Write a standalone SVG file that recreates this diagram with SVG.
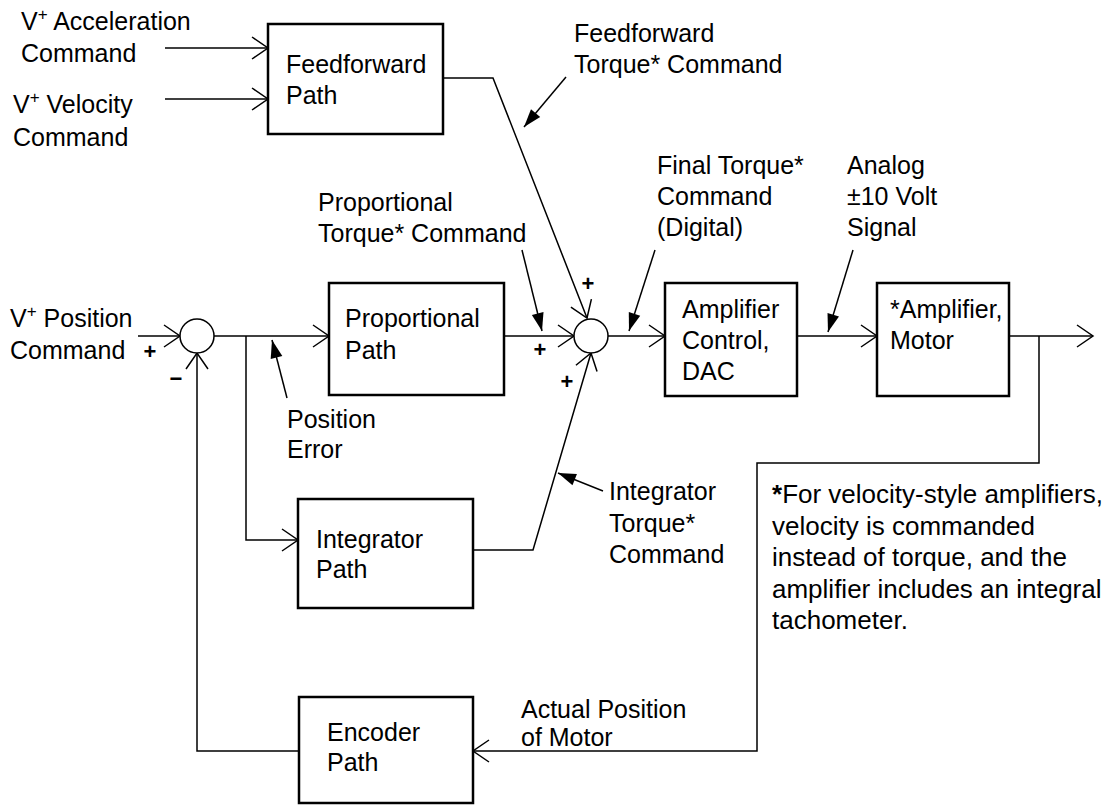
<svg xmlns="http://www.w3.org/2000/svg" width="1110" height="805" viewBox="0 0 1110 805">
  <style>
    text { font-family: "Liberation Sans", Arial, Helvetica, sans-serif; font-size: 25px; fill: #000; }
    .sign { font-size: 22px; font-weight: bold; text-anchor: middle; }
    .note { font-size: 26px; }
    .box { fill: #fff; stroke: #000; stroke-width: 2.5; }
    .sum { fill: #fff; stroke: #000; stroke-width: 1.5; }
    .wire { fill: none; stroke: #000; stroke-width: 1.5; }
    .sup { font-size: 17px; }
  </style>
  <defs>
    <!-- open chevron head for signal lines -->
    <marker id="open" markerUnits="userSpaceOnUse" viewBox="-18 -13 20 26" markerWidth="20" markerHeight="26" refX="0" refY="0" orient="auto">
      <path d="M-16,-11 L0,0 L-16,11" fill="none" stroke="#000" stroke-width="1.5"/>
    </marker>
    <!-- solid head for label pointers -->
    <marker id="solid" markerUnits="userSpaceOnUse" viewBox="-20 -8 21 16" markerWidth="21" markerHeight="16" refX="0" refY="0" orient="auto">
      <path d="M-18,-6 L0,0 L-18,6 Z" fill="#000"/>
    </marker>
  </defs>

  <rect width="1110" height="805" fill="#fff"/>

  <!-- signal connectors -->
  <g id="connectors" class="wire">
    <path d="M165,48 H268" marker-end="url(#open)"/>
    <path d="M165,99 H268" marker-end="url(#open)"/>
    <path d="M443,78 H493 L587,318" marker-end="url(#open)"/>
    <path d="M138,336 H180" marker-end="url(#open)"/>
    <path d="M214,336 H329" marker-end="url(#open)"/>
    <path d="M246,336 V540 H298" marker-end="url(#open)"/>
    <path d="M504,336 H574" marker-end="url(#open)"/>
    <path d="M608,336 H665" marker-end="url(#open)"/>
    <path d="M797,336 H877" marker-end="url(#open)"/>
    <path d="M1009,336 H1093" marker-end="url(#open)"/>
    <path d="M1039,336 V463 H757 V751 H473" marker-end="url(#open)"/>
    <path d="M299,751 H197 V353" marker-end="url(#open)"/>
    <path d="M473,550 H533 L591,353" marker-end="url(#open)"/>

    <!-- label pointers -->
    <path d="M566,77 L524,127" marker-end="url(#solid)"/>
    <path d="M522,250 L542,331" marker-end="url(#solid)"/>
    <path d="M655,250 L629,331" marker-end="url(#solid)"/>
    <path d="M853,250 L828,332" marker-end="url(#solid)"/>
    <path d="M287,398 L272,340" marker-end="url(#solid)"/>
    <path d="M603,491 L558,473" marker-end="url(#solid)"/>
  </g>

  <!-- input commands -->
  <g id="accel-cmd">
    <text x="21" y="30">V<tspan class="sup" dy="-10">+</tspan><tspan dy="10"> Acceleration</tspan></text>
    <text x="21" y="62">Command</text>
  </g>
  <g id="velocity-cmd">
    <text x="13" y="113">V<tspan class="sup" dy="-10">+</tspan><tspan dy="10"> Velocity</tspan></text>
    <text x="13" y="146">Command</text>
  </g>
  <g id="position-cmd">
    <text x="10" y="327">V<tspan class="sup" dy="-10">+</tspan><tspan dy="10"> Position</tspan></text>
    <text x="10" y="359">Command</text>
  </g>

  <!-- blocks -->
  <g id="feedforward">
    <rect class="box" x="268" y="24" width="175" height="110"/>
    <text x="286" y="73">Feedforward</text>
    <text x="286" y="104">Path</text>
  </g>
  <g id="sum1">
    <circle class="sum" cx="197" cy="336" r="17"/>
    <text class="sign" x="150" y="359">+</text>
    <text class="sign" x="176" y="386">−</text>
  </g>
  <g id="proportional">
    <rect class="box" x="329" y="283" width="175" height="112"/>
    <text x="345" y="327">Proportional</text>
    <text x="345" y="359">Path</text>
  </g>
  <g id="integrator">
    <rect class="box" x="298" y="499" width="175" height="109"/>
    <text x="316" y="548">Integrator</text>
    <text x="316" y="578">Path</text>
  </g>
  <g id="sum2">
    <circle class="sum" cx="591" cy="336" r="17"/>
    <text class="sign" x="588" y="291">+</text>
    <text class="sign" x="540" y="357">+</text>
    <text class="sign" x="567" y="389">+</text>
  </g>
  <g id="amp-control">
    <rect class="box" x="665" y="283" width="132" height="113"/>
    <text x="682" y="318">Amplifier</text>
    <text x="682" y="349">Control,</text>
    <text x="682" y="380">DAC</text>
  </g>
  <g id="amp-motor">
    <rect class="box" x="877" y="283" width="132" height="113"/>
    <text x="890" y="318">*Amplifier,</text>
    <text x="890" y="349">Motor</text>
  </g>
  <g id="encoder">
    <rect class="box" x="299" y="697" width="174" height="106"/>
    <text x="327" y="741">Encoder</text>
    <text x="327" y="771">Path</text>
  </g>

  <!-- signal labels -->
  <g id="labels">
    <text x="574" y="42">Feedforward</text>
    <text x="574" y="73">Torque* Command</text>
    <text x="318" y="211">Proportional</text>
    <text x="318" y="242">Torque* Command</text>
    <text x="657" y="174">Final Torque*</text>
    <text x="657" y="205">Command</text>
    <text x="657" y="236">(Digital)</text>
    <text x="847" y="174">Analog</text>
    <text x="847" y="205">±10 Volt</text>
    <text x="847" y="236">Signal</text>
    <text x="287" y="428">Position</text>
    <text x="287" y="458">Error</text>
    <text x="609" y="500">Integrator</text>
    <text x="609" y="532">Torque*</text>
    <text x="609" y="563">Command</text>
    <text x="521" y="718">Actual Position</text>
    <text x="521" y="746">of Motor</text>
  </g>

  <!-- footnote -->
  <g id="note" class="note">
    <text class="note" x="772" y="503"><tspan font-weight="bold">*</tspan>For velocity-style amplifiers,</text>
    <text class="note" x="772" y="534.5">velocity is commanded</text>
    <text class="note" x="772" y="566">instead of torque, and the</text>
    <text class="note" x="772" y="597.5">amplifier includes an integral</text>
    <text class="note" x="772" y="629">tachometer.</text>
  </g>
</svg>
